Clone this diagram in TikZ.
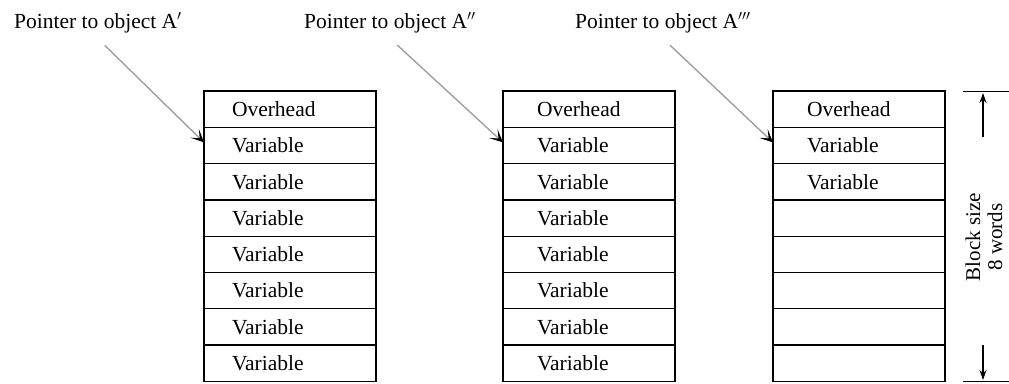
\documentclass[tikz,border=0pt]{standalone}
\usepackage{fontspec}
\setmainfont{Liberation Serif}
\usetikzlibrary{positioning,arrows.meta}

\begin{document}
\begin{tikzpicture}[x=1pt, y=-1pt, font=\fontsize{21.5}{25}\selectfont,
    cell/.style = {draw, rectangle, line width=1.3pt, outer sep=0pt, inner ysep=0pt, minimum height=36.3pt, inner xsep=34pt, text width=104pt, align=left},
    cellA/.style = {cell, inner xsep=28pt, text width=116pt},
    ptrtext/.style = {inner sep=0pt, anchor=base west},
    ptr/.style = {draw=gray!75, line width=1.4pt, shorten <=18pt, -{Stealth[length=13pt, width=12pt, inset=7pt, color=black]}},
    dim/.style = {line width=1.3pt},
    dimarrow/.style = {line width=1.3pt, -{Stealth[length=10pt, width=7pt]}}]
        \useasboundingbox (0,0) rectangle (1009,383);

        % labels of the three pointers
        \node[ptrtext] (p1) at (14,28) {Pointer to object A$'$};
        \node[ptrtext] (p2) at (304,28) {Pointer to object A$''$};
        \node[ptrtext] (p3) at (575,28) {Pointer to object A$'''$};

        % block of object A'
        \node[cellA] (a1) at (290,109.15) {Overhead};
        \node[cellA] (a2) [below=0pt of a1] {Variable};
        \node[cellA] (a3) [below=0pt of a2] {Variable};
        \node[cellA] (a4) [below=0pt of a3] {Variable};
        \node[cellA] (a5) [below=0pt of a4] {Variable};
        \node[cellA] (a6) [below=0pt of a5] {Variable};
        \node[cellA] (a7) [below=0pt of a6] {Variable};
        \node[cellA] (a8) [below=0pt of a7] {Variable};

        % block of object A''
        \node[cell] (b1) [right=127pt of a1] {Overhead};
        \node[cell] (b2) [below=0pt of b1] {Variable};
        \node[cell] (b3) [below=0pt of b2] {Variable};
        \node[cell] (b4) [below=0pt of b3] {Variable};
        \node[cell] (b5) [below=0pt of b4] {Variable};
        \node[cell] (b6) [below=0pt of b5] {Variable};
        \node[cell] (b7) [below=0pt of b6] {Variable};
        \node[cell] (b8) [below=0pt of b7] {Variable};

        % block of object A'''
        \node[cell] (c1) [right=98pt of b1] {Overhead};
        \node[cell] (c2) [below=0pt of c1] {Variable};
        \node[cell] (c3) [below=0pt of c2] {Variable};
        \node[cell] (c4) [below=0pt of c3] {};
        \node[cell] (c5) [below=0pt of c4] {};
        \node[cell] (c6) [below=0pt of c5] {};
        \node[cell] (c7) [below=0pt of c6] {};
        \node[cell] (c8) [below=0pt of c7] {};

        \draw[ptr] ([xshift=-6pt]p1.south) -- ([yshift=3pt]a2.west);
        \draw[ptr] ([xshift=-6pt]p2.south) -- ([yshift=3pt]b2.west);
        \draw[ptr] ([xshift=-6pt]p3.south) -- ([yshift=3pt]c2.west);

        % block size
        \coordinate (dt1) at (963,91.2);
        \coordinate (dt2) at (1009,91.2);
        \coordinate (db1) at (963,381.6);
        \coordinate (db2) at (1009,381.6);
        \coordinate (up1) at (983,137);
        \coordinate (up2) at (983,93);
        \coordinate (dn1) at (983,345);
        \coordinate (dn2) at (983,380);
        \draw[dim] (dt1) -- (dt2);
        \draw[dim] (db1) -- (db2);
        \draw[dimarrow] (up1) -- (up2);
        \draw[dimarrow] (dn1) -- (dn2);
        \node[rotate=90, align=center, inner sep=0pt, font=\fontsize{21}{22}\selectfont] (bs) at (984,237) {Block size\\8 words};
\end{tikzpicture}
\end{document}
